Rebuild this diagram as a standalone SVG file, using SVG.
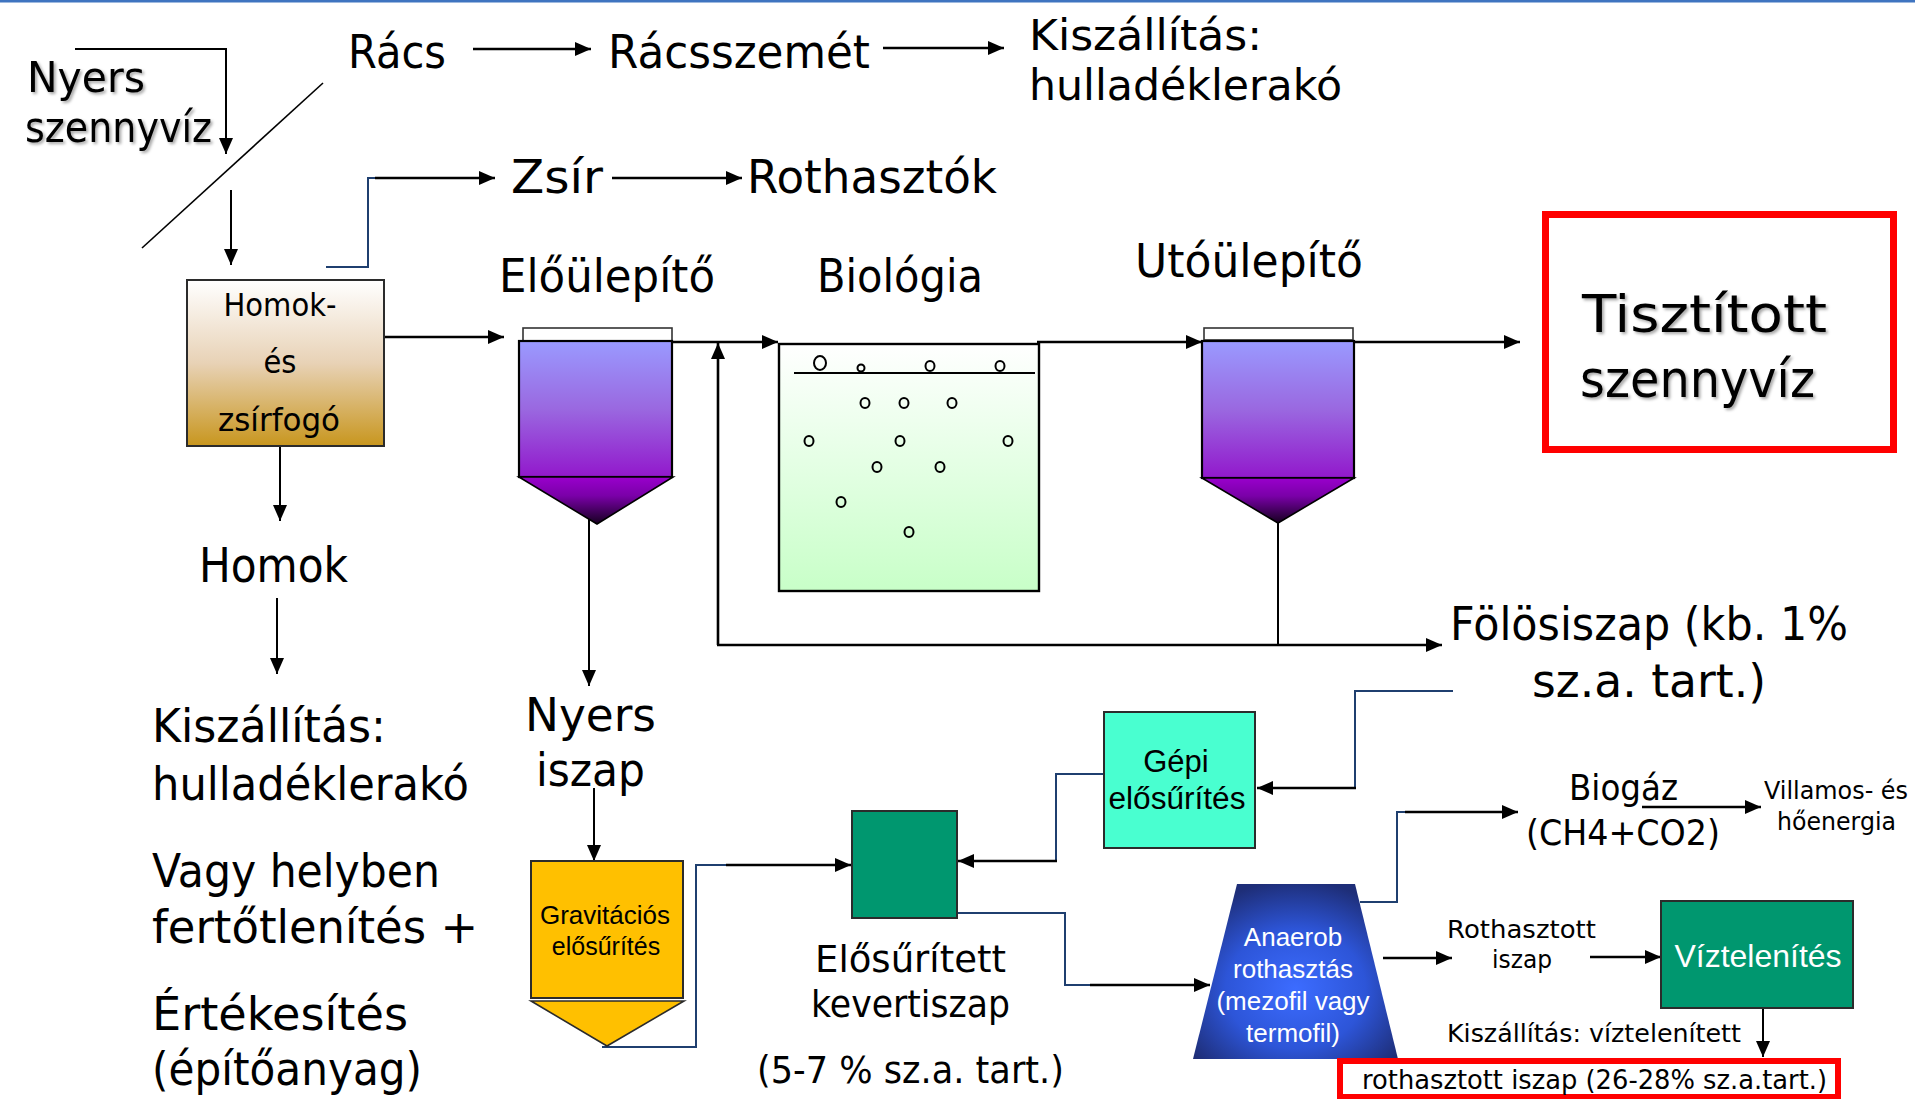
<svg xmlns="http://www.w3.org/2000/svg" width="1915" height="1099" viewBox="0 0 1915 1099">
  <style>
    .c { font-family: "DejaVu Sans", "Noto Sans", sans-serif; fill: #000; }
    .a { font-family: "Liberation Sans", Arial, sans-serif; }
    .ln { fill: none; stroke: #000; stroke-width: 2.6; }
    .thin { fill: none; stroke: #000; stroke-width: 2; }
    .bl { fill: none; stroke: #1F3F6F; stroke-width: 2; }
    .arr { marker-end: url(#ah); }
    .box { stroke: #2b2b2b; stroke-width: 2; }
  </style>
  <defs>
    <marker id="ah" viewBox="0 0 16 14" refX="16" refY="7" markerWidth="16" markerHeight="14" markerUnits="userSpaceOnUse" orient="auto">
      <path d="M0,0 L16,7 L0,14 z" fill="#000"/>
    </marker>
    <linearGradient id="gSand" x1="0" y1="0" x2="0" y2="1">
      <stop offset="0" stop-color="#FFFFFF"/>
      <stop offset="0.5" stop-color="#E8D2B6"/>
      <stop offset="1" stop-color="#C8961E"/>
    </linearGradient>
    <linearGradient id="gTank" x1="0" y1="0" x2="0" y2="1">
      <stop offset="0" stop-color="#9A9AFF"/>
      <stop offset="0.5" stop-color="#9A68E0"/>
      <stop offset="1" stop-color="#9218CC"/>
    </linearGradient>
    <linearGradient id="gCone" x1="0" y1="0" x2="0" y2="1">
      <stop offset="0" stop-color="#9900CC"/>
      <stop offset="0.4" stop-color="#7A00A8"/>
      <stop offset="1" stop-color="#160020"/>
    </linearGradient>
    <linearGradient id="gBio" x1="0" y1="0" x2="0" y2="1">
      <stop offset="0" stop-color="#FFFFFF"/>
      <stop offset="1" stop-color="#C8FFC8"/>
    </linearGradient>
    <radialGradient id="gAna" cx="0.5" cy="0.6" r="0.62">
      <stop offset="0" stop-color="#3C6CFF"/>
      <stop offset="0.55" stop-color="#2D55D8"/>
      <stop offset="1" stop-color="#1E2E78"/>
    </radialGradient>
    <filter id="sh" x="-10%" y="-10%" width="120%" height="130%">
      <feDropShadow dx="2" dy="2" stdDeviation="1.5" flood-color="#000" flood-opacity="0.35"/>
    </filter>
  </defs>

  <!-- page rule -->
  <rect x="0" y="0" width="1915" height="2.5" fill="#3F74C0"/>

  <!-- connectors -->
  <g id="connectors">
    <polyline class="thin arr" points="75,49 226,49 226,154"/>
    <line x1="142" y1="248" x2="323" y2="83" stroke="#000" stroke-width="1.6"/>
    <line class="thin arr" x1="231" y1="190" x2="231" y2="265"/>
    <line class="ln arr" x1="473" y1="49" x2="591" y2="49"/>
    <line class="ln arr" x1="883" y1="48" x2="1004" y2="48"/>
    <polyline class="bl" points="326,267 368,267 368,178 376,178"/>
    <line class="ln arr" x1="375" y1="178" x2="495" y2="178"/>
    <line class="ln arr" x1="612" y1="178" x2="742" y2="178"/>
    <line class="ln arr" x1="385" y1="337" x2="504" y2="337"/>
    <line class="thin arr" x1="280" y1="446" x2="280" y2="521"/>
    <line class="thin arr" x1="277" y1="598" x2="277" y2="674"/>
    <line class="ln arr" x1="672" y1="342" x2="778" y2="342"/>
    <line class="ln arr" x1="718" y1="645" x2="718" y2="343"/>
    <line class="ln arr" x1="717" y1="645" x2="1442" y2="645"/>
    <line class="thin" x1="1278" y1="523" x2="1278" y2="645"/>
    <line class="ln arr" x1="1037" y1="342" x2="1202" y2="342"/>
    <line class="ln arr" x1="1354" y1="342" x2="1520" y2="342"/>
    <line class="thin arr" x1="589" y1="513" x2="589" y2="686"/>
    <line class="thin arr" x1="594" y1="788" x2="594" y2="861"/>
    <polyline class="bl" points="602,1047 696,1047 696,865 727,865"/>
    <line class="ln arr" x1="726" y1="865" x2="851" y2="865"/>
    <polyline class="bl" points="1104,774 1056,774 1056,861"/>
    <line class="ln arr" x1="1057" y1="861" x2="958" y2="861"/>
    <polyline class="bl" points="957,913 1065,913 1065,985 1091,985"/>
    <line class="ln arr" x1="1090" y1="985" x2="1210" y2="985"/>
    <polyline class="bl" points="1453,691 1355,691 1355,788"/>
    <line class="ln arr" x1="1356" y1="788" x2="1257" y2="788"/>
    <polyline class="bl" points="1360,902 1397,902 1397,812 1406,812"/>
    <line class="ln arr" x1="1405" y1="812" x2="1518" y2="812"/>
    <line class="ln arr" x1="1642" y1="807" x2="1761" y2="807"/>
    <line class="ln arr" x1="1383" y1="958" x2="1452" y2="958"/>
    <line class="ln arr" x1="1590" y1="957" x2="1661" y2="957"/>
    <line class="thin arr" x1="1763" y1="1008" x2="1763" y2="1057"/>
  </g>

  <!-- inflow and screening -->
  <g id="nyers-szennyviz" filter="url(#sh)">
    <text class="c" x="27" y="92" font-size="42" textLength="118" lengthAdjust="spacingAndGlyphs">Nyers</text>
    <text class="c" x="25" y="142" font-size="42" textLength="187" lengthAdjust="spacingAndGlyphs">szennyvíz</text>
  </g>
  <g id="racs"><text class="c" x="348" y="68" font-size="46" textLength="98" lengthAdjust="spacingAndGlyphs">Rács</text></g>
  <g id="racsszemet"><text class="c" x="608" y="68" font-size="46" textLength="262" lengthAdjust="spacingAndGlyphs">Rácsszemét</text></g>
  <g id="kiszallitas-top">
    <text class="c" x="1029" y="50" font-size="43" textLength="233" lengthAdjust="spacingAndGlyphs">Kiszállítás:</text>
    <text class="c" x="1029" y="100" font-size="43" textLength="313" lengthAdjust="spacingAndGlyphs">hulladéklerakó</text>
  </g>
  <g id="zsir"><text class="c" x="511" y="193" font-size="46" textLength="92" lengthAdjust="spacingAndGlyphs">Zsír</text></g>
  <g id="rothasztok"><text class="c" x="747" y="193" font-size="46" textLength="250" lengthAdjust="spacingAndGlyphs">Rothasztók</text></g>

  <!-- grit and grease chamber -->
  <g id="homok-zsirfogo">
    <rect class="box" x="187" y="280" width="197" height="166" fill="url(#gSand)"/>
    <text class="c" x="280" y="316" font-size="32" text-anchor="middle" textLength="113" lengthAdjust="spacingAndGlyphs">Homok-</text>
    <text class="c" x="280" y="373" font-size="32" text-anchor="middle" textLength="33" lengthAdjust="spacingAndGlyphs">és</text>
    <text class="c" x="279" y="431" font-size="32" text-anchor="middle" textLength="122" lengthAdjust="spacingAndGlyphs">zsírfogó</text>
  </g>
  <g id="homok"><text class="c" x="199" y="582" font-size="48" textLength="149" lengthAdjust="spacingAndGlyphs">Homok</text></g>
  <g id="homok-hasznositas">
    <text class="c" x="152" y="742" font-size="46" textLength="234" lengthAdjust="spacingAndGlyphs">Kiszállítás:</text>
    <text class="c" x="152" y="800" font-size="46" textLength="317" lengthAdjust="spacingAndGlyphs">hulladéklerakó</text>
    <text class="c" x="152" y="887" font-size="46" textLength="288" lengthAdjust="spacingAndGlyphs">Vagy helyben</text>
    <text class="c" x="152" y="943" font-size="46" textLength="326" lengthAdjust="spacingAndGlyphs">fertőtlenítés +</text>
    <text class="c" x="152" y="1030" font-size="46" textLength="256" lengthAdjust="spacingAndGlyphs">Értékesítés</text>
    <text class="c" x="152" y="1085" font-size="46" textLength="270" lengthAdjust="spacingAndGlyphs">(építőanyag)</text>
  </g>

  <!-- primary clarifier -->
  <g id="eloulepito">
    <text class="c" x="499" y="292" font-size="46" textLength="216" lengthAdjust="spacingAndGlyphs">Előülepítő</text>
    <rect x="523" y="328" width="149" height="13" fill="#fff" stroke="#333" stroke-width="1.6"/>
    <rect x="519" y="341" width="153" height="136" fill="url(#gTank)" stroke="#000" stroke-width="2.2"/>
    <polygon points="519,477 673,477 597,524" fill="url(#gCone)" stroke="#000" stroke-width="1.6"/>
  </g>

  <!-- activated sludge basin -->
  <g id="biologia">
    <text class="c" x="817" y="292" font-size="46" textLength="166" lengthAdjust="spacingAndGlyphs">Biológia</text>
    <rect x="779" y="344" width="260" height="247" fill="url(#gBio)" stroke="#000" stroke-width="2.4"/>
    <line x1="794" y1="373" x2="1035" y2="373" stroke="#000" stroke-width="2"/>
    <g fill="none" stroke="#000" stroke-width="2">
      <ellipse cx="820" cy="363" rx="6" ry="7"/>
      <circle cx="861" cy="368" r="3.5"/>
      <ellipse cx="930" cy="366" rx="4.5" ry="5"/>
      <ellipse cx="1000" cy="366" rx="4.5" ry="5"/>
      <ellipse cx="865" cy="403" rx="4.5" ry="5"/>
      <ellipse cx="904" cy="403" rx="4.5" ry="5"/>
      <ellipse cx="952" cy="403" rx="4.5" ry="5"/>
      <ellipse cx="809" cy="441" rx="4.5" ry="5"/>
      <ellipse cx="900" cy="441" rx="4.5" ry="5"/>
      <ellipse cx="1008" cy="441" rx="4.5" ry="5"/>
      <ellipse cx="877" cy="467" rx="4.5" ry="5"/>
      <ellipse cx="940" cy="467" rx="4.5" ry="5"/>
      <ellipse cx="841" cy="502" rx="4.5" ry="5"/>
      <ellipse cx="909" cy="532" rx="4.5" ry="5"/>
    </g>
  </g>

  <!-- secondary clarifier -->
  <g id="utoulepito">
    <text class="c" x="1135" y="277" font-size="46" textLength="228" lengthAdjust="spacingAndGlyphs">Utóülepítő</text>
    <rect x="1204" y="328" width="149" height="12" fill="#fff" stroke="#333" stroke-width="1.6"/>
    <rect x="1202" y="341" width="152" height="137" fill="url(#gTank)" stroke="#000" stroke-width="2.2"/>
    <polygon points="1202,478 1354,478 1278,523" fill="url(#gCone)" stroke="#000" stroke-width="1.6"/>
  </g>

  <g id="tisztitott-szennyviz">
    <rect x="1545.5" y="214.5" width="348" height="235" fill="#fff" stroke="#FF0000" stroke-width="7"/>
    <g filter="url(#sh)">
      <text class="c" x="1582" y="332" font-size="52" textLength="245" lengthAdjust="spacingAndGlyphs">Tisztított</text>
      <text class="c" x="1580" y="397" font-size="52" textLength="235" lengthAdjust="spacingAndGlyphs">szennyvíz</text>
    </g>
  </g>

  <g id="folosiszap">
    <text class="c" x="1450" y="640" font-size="46" textLength="398" lengthAdjust="spacingAndGlyphs">Fölösiszap (kb. 1%</text>
    <text class="c" x="1532" y="697" font-size="46" textLength="234" lengthAdjust="spacingAndGlyphs">sz.a. tart.)</text>
  </g>

  <!-- sludge line -->
  <g id="nyers-iszap">
    <text class="c" x="525" y="731" font-size="46" textLength="131" lengthAdjust="spacingAndGlyphs">Nyers</text>
    <text class="c" x="536" y="786" font-size="46" textLength="109" lengthAdjust="spacingAndGlyphs">iszap</text>
  </g>
  <g id="gravitacios-elosurites">
    <rect class="box" x="531" y="861" width="152" height="137" fill="#FFC000"/>
    <polygon points="531,1001 684,1001 607,1046" fill="#FFC000" stroke="#2b2b2b" stroke-width="1.6"/>
    <text class="a" x="605" y="924" font-size="25" text-anchor="middle" textLength="130" lengthAdjust="spacingAndGlyphs">Gravitációs</text>
    <text class="a" x="606" y="955" font-size="25" text-anchor="middle">elősűrítés</text>
  </g>
  <g id="kevero">
    <rect class="box" x="852" y="811" width="105" height="107" fill="#00976F"/>
  </g>
  <g id="elosuritett-kevertiszap">
    <text class="c" x="815" y="972" font-size="38" textLength="191" lengthAdjust="spacingAndGlyphs">Elősűrített</text>
    <text class="c" x="811" y="1017" font-size="38" textLength="199" lengthAdjust="spacingAndGlyphs">kevertiszap</text>
    <text class="c" x="757" y="1083" font-size="37" textLength="307" lengthAdjust="spacingAndGlyphs">(5-7 % sz.a. tart.)</text>
  </g>
  <g id="gepi-elosurites">
    <rect class="box" x="1104" y="712" width="151" height="136" fill="#49FFD0"/>
    <text class="a" x="1176" y="772" font-size="31" text-anchor="middle">Gépi</text>
    <text class="a" x="1177" y="809" font-size="31" text-anchor="middle" textLength="137" lengthAdjust="spacingAndGlyphs">elősűrítés</text>
  </g>
  <g id="anaerob-rothasztas">
    <polygon points="1237,884 1355,884 1398,1059 1193,1059" fill="url(#gAna)"/>
    <g class="a" fill="#fff" font-size="26" text-anchor="middle">
      <text x="1293" y="946">Anaerob</text>
      <text x="1293" y="978">rothasztás</text>
      <text x="1293" y="1010">(mezofil vagy</text>
      <text x="1293" y="1042">termofil)</text>
    </g>
  </g>
  <g id="biogaz">
    <text class="c" x="1569" y="800" font-size="36" textLength="109" lengthAdjust="spacingAndGlyphs">Biogáz</text>
    <text class="c" x="1526" y="845" font-size="36" textLength="194" lengthAdjust="spacingAndGlyphs">(CH4+CO2)</text>
  </g>
  <g id="villamos-hoenergia">
    <text class="c" x="1764" y="799" font-size="25" textLength="144" lengthAdjust="spacingAndGlyphs">Villamos- és</text>
    <text class="c" x="1777" y="830" font-size="25" textLength="119" lengthAdjust="spacingAndGlyphs">hőenergia</text>
  </g>
  <g id="rothasztott-iszap">
    <text class="c" x="1447" y="938" font-size="25" textLength="149" lengthAdjust="spacingAndGlyphs">Rothasztott</text>
    <text class="c" x="1492" y="968" font-size="25" textLength="60" lengthAdjust="spacingAndGlyphs">iszap</text>
  </g>
  <g id="viztelenites">
    <rect class="box" x="1661" y="901" width="192" height="107" fill="#00976F"/>
    <text class="a" x="1758" y="967" font-size="32" fill="#fff" text-anchor="middle">Víztelenítés</text>
  </g>
  <g id="kiszallitas-viztelenitett">
    <text class="c" x="1447" y="1042" font-size="25" textLength="294" lengthAdjust="spacingAndGlyphs">Kiszállítás: víztelenített</text>
  </g>
  <g id="vegtermek">
    <rect x="1340" y="1061" width="498" height="36" fill="#fff" stroke="#FF0000" stroke-width="6"/>
    <text class="c" x="1362" y="1089" font-size="26" textLength="465" lengthAdjust="spacingAndGlyphs">rothasztott iszap (26-28% sz.a.tart.)</text>
  </g>
</svg>
